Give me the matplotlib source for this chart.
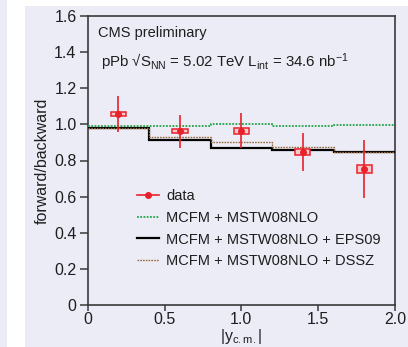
import matplotlib
matplotlib.use("Agg")
import matplotlib.pyplot as plt
from matplotlib.patches import Rectangle
from matplotlib.lines import Line2D

plt.rcParams['font.family'] = ['Liberation Sans', 'DejaVu Sans']
plt.rcParams['mathtext.fontset'] = 'custom'
plt.rcParams['mathtext.rm'] = 'Liberation Sans'
plt.rcParams['mathtext.it'] = 'Liberation Sans'
plt.rcParams['mathtext.sf'] = 'Liberation Sans'

# data
x_data = [0.2, 0.6, 1.0, 1.4, 1.8]
y_data = [1.057, 0.962, 0.965, 0.847, 0.753]
y_stat = [0.10, 0.092, 0.097, 0.106, 0.16]
y_syst = [0.010, 0.011, 0.016, 0.017, 0.022]
box_width = 0.10

bin_edges = [0.0, 0.4, 0.8, 1.2, 1.6, 2.0]
mstw = [0.991, 0.991, 1.002, 0.989, 0.997]
eps09 = [0.978, 0.914, 0.871, 0.856, 0.847]
dssz = [0.982, 0.930, 0.902, 0.877, 0.849]

xticks = [0, 0.5, 1.0, 1.5, 2.0]
xticklabels = ['0', '0.5', '1.0', '1.5', '2.0']
yticks = [0, 0.2, 0.4, 0.6, 0.8, 1.0, 1.2, 1.4, 1.6]
yticklabels = ['0', '0.2', '0.4', '0.6', '0.8', '1.0', '1.2', '1.4', '1.6']

BG = '#ECECF7'
RED = '#E8212B'
GREEN = '#22A447'
BROWN = '#9A6A3E'
AX = '#3a3a3a'
TXT = '#1e1e1e'

fig = plt.figure(figsize=(4.08, 3.47), dpi=100, facecolor='white')
# background panels
fig.patches.append(Rectangle((0, 0), 7/408, 1, transform=fig.transFigure, facecolor=BG, edgecolor='none', zorder=-5))
fig.patches.append(Rectangle((25/408, 0), 1, 1 - 6/347, transform=fig.transFigure, facecolor=BG, edgecolor='none', zorder=-5))

ax = fig.add_axes([87.7/408, 42/347, 307.3/408, 289/347])
ax.set_facecolor('none')
ax.set_xlim(0, 2.0)
ax.set_ylim(0, 1.6)

ax.stairs(eps09, bin_edges, baseline=None, color='black', lw=1.6, zorder=3)
ax.stairs(dssz, bin_edges, baseline=None, color=BROWN, lw=1.0, linestyle=(0, (1.2, 0.8)), zorder=4)
ax.stairs(mstw, bin_edges, baseline=None, color=GREEN, lw=1.3, linestyle=(0, (1.0, 0.8)), zorder=4)

for xi, yi, s in zip(x_data, y_data, y_syst):
    ax.add_patch(Rectangle((xi - box_width/2, yi - s), box_width, 2*s,
                           facecolor='#F6C9CC', edgecolor=RED, lw=1.1, zorder=5))
ax.errorbar(x_data, y_data, yerr=y_stat, fmt='o', color=RED, ecolor=RED,
            elinewidth=1.2, capsize=0, markersize=4, zorder=6)

ax.set_xticks(xticks)
ax.set_xticklabels(xticklabels)
ax.set_yticks(yticks)
ax.set_yticklabels(yticklabels)
ax.tick_params(axis='y', direction='out', length=6, width=1.1, color=AX,
               labelsize=11.5, labelcolor=TXT, pad=2)
ax.tick_params(axis='x', direction='out', length=4, width=1.1, color=AX,
               labelsize=11.5, labelcolor=TXT, pad=1)
for sp in ax.spines.values():
    sp.set_color(AX)
    sp.set_linewidth(1.2)

ax.set_ylabel('forward/backward', fontsize=11.5, color=TXT, labelpad=3)
ax.set_xlabel(r'$|\mathrm{y}_{\mathrm{c.m.}}|$', fontsize=11.5, color=TXT, labelpad=0)

ax.text(0.035, 0.94, 'CMS preliminary', transform=ax.transAxes, fontsize=10.5,
        color=TXT, va='center', ha='left')
ax.text(0.042, 0.84,
        'pPb \u221aS$_{\\mathrm{NN}}$ = 5.02 TeV L$_{\\mathrm{int}}$ = 34.6 nb$^{-1}$',
        transform=ax.transAxes, fontsize=10.8, color=TXT, va='center', ha='left')

handles = [
    Line2D([], [], color=RED, lw=1.2, marker='o', markersize=4),
    Line2D([], [], color=GREEN, lw=1.3, linestyle=(0, (1.0, 0.8))),
    Line2D([], [], color='black', lw=1.6),
    Line2D([], [], color=BROWN, lw=1.0, linestyle=(0, (1.2, 0.8))),
]
labels = ['data', 'MCFM + MSTW08NLO', 'MCFM + MSTW08NLO + EPS09', 'MCFM + MSTW08NLO + DSSZ']
leg = ax.legend(handles, labels, loc='upper left', bbox_to_anchor=(0.16, 0.40),
                frameon=False, fontsize=10.5, handlelength=1.55, handletextpad=0.45,
                labelspacing=0.52, borderpad=0, borderaxespad=0)
for t in leg.get_texts():
    t.set_color(TXT)

fig.savefig('out.png', dpi=100, facecolor='white')
